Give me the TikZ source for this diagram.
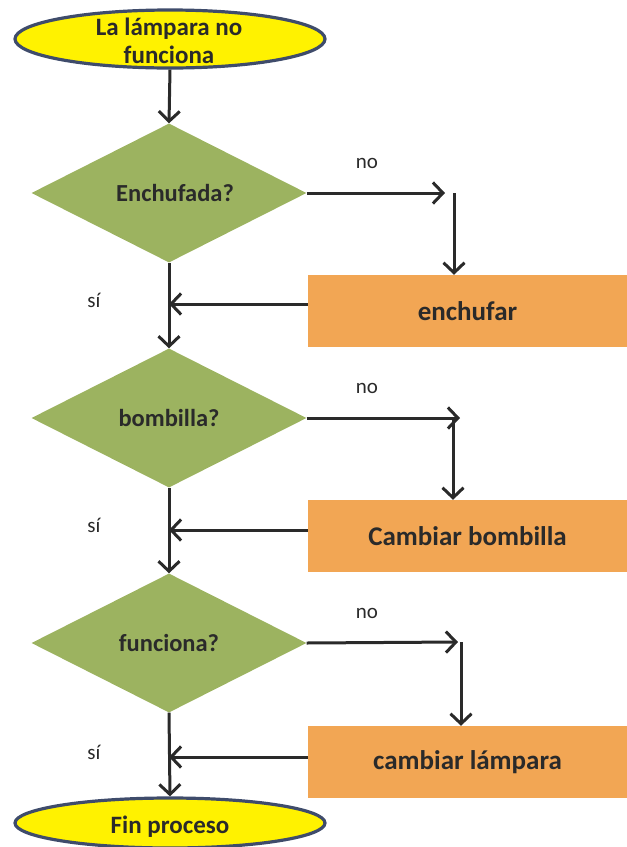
\documentclass[tikz,border=0pt]{standalone}
\usepackage{fontspec}
\setmainfont{Carlito}
\usetikzlibrary{shapes.geometric,arrows.meta}

\definecolor{lampyellow}{HTML}{FFF200}
\definecolor{lampedge}{HTML}{3F4C6B}
\definecolor{qgreen}{HTML}{9CB360}
\definecolor{actorange}{HTML}{F2A654}
\definecolor{ink}{HTML}{2A2A2A}

\begin{document}
\begin{tikzpicture}[x=1pt,y=-1pt,
  terminal/.style={ellipse, draw=lampedge, line width=3.2pt, fill=lampyellow,
    minimum width=310pt, inner sep=0pt},
  question/.style={diamond, fill=qgreen, minimum width=275pt, minimum height=139pt,
    inner sep=0pt, text=ink, font=\bfseries\fontsize{24.5}{28}\selectfont},
  action/.style={rectangle, fill=actorange, minimum width=319pt, minimum height=72pt,
    inner sep=0pt, text=ink, font=\bfseries\fontsize{27}{31}\selectfont},
  termtext/.style={text=ink, align=center, font=\bfseries\fontsize{25}{28}\selectfont},
  branch/.style={text=ink, font=\fontsize{21}{25}\selectfont},
  arr/.style={draw=ink, line width=3pt, -{Straight Barb[length=10pt,width=21pt]}}
]
\useasboundingbox (0,0) rectangle (627,847);

% start and end terminals
\node[terminal, minimum height=58pt] (start) at (170,39) {};
\node[termtext] (starttxt) at (169,41) {La lámpara no\\funciona};
\node[terminal, minimum height=50pt] (fin) at (170,823) {};
\node[termtext] (fintxt) at (170,827) {Fin proceso};

% decisions
\node[question] (d1) at (169,193) {\makebox[0pt]{\hspace*{12pt}Enchufada?}};
\node[question] (d2) at (169,418) {bombilla?};
\node[question] (d3) at (169,643) {funciona?};

% actions
\node[action] (b1) at (467.5,311) {enchufar};
\node[action] (b2) at (467.5,536) {Cambiar bombilla};
\node[action] (b3) at (467.5,762) {cambiar lámpara};

% main trunk
\draw[arr] (start.south) -- (d1.north);
\draw[arr] (d1.south) -- (d2.north);
\draw[arr] (d2.south) -- (d3.north);
\draw[arr] (d3.south) -- (fin.north);

% "no" branches
\coordinate (n1) at (445,193);
\coordinate (v1) at (454,193);
\draw[arr] (d1.east) -- (n1);
\draw[arr] (v1) -- (v1 |- b1.north);
\node[branch] (no1) at (367,163) {no};

\coordinate (n2) at (460,418);
\coordinate (v2) at (453,418);
\draw[arr] (d2.east) -- (n2);
\draw[arr] (v2) -- (v2 |- b2.north);
\node[branch] (no2) at (367,388) {no};

\coordinate (n3) at (458,642);
\coordinate (v3) at (461,642);
\draw[arr] (d3.east) -- (n3);
\draw[arr] (v3) -- (v3 |- b3.north);
\node[branch] (no3) at (367,613) {no};

% returns to the trunk
\coordinate (r1) at ([yshift=7pt]b1.west);
\draw[arr] (r1) -- (r1 -| d1.south);
\node[branch] (si1) at (94,300) {sí};

\coordinate (r2) at ([yshift=6pt]b2.west);
\draw[arr] (r2) -- (r2 -| d2.south);
\node[branch] (si2) at (94,525) {sí};

\coordinate (r3) at ([yshift=5pt]b3.west);
\draw[arr] (r3) -- (r3 -| d3.south);
\node[branch] (si3) at (94,752) {sí};
\end{tikzpicture}
\end{document}
